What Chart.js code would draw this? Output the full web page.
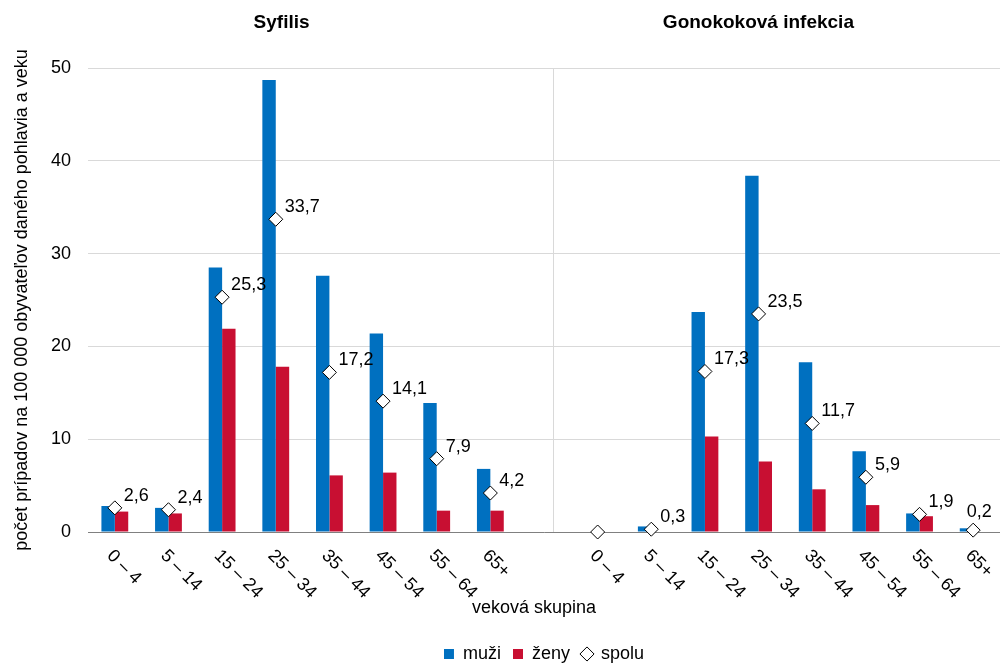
<!DOCTYPE html>
<html>
<head>
<meta charset="utf-8">
<script src="https://cdn.jsdelivr.net/npm/chart.js@4.4.1/dist/chart.umd.min.js"></script>
<style>
  html, body { margin: 0; padding: 0; background: #fff; overflow: hidden; }
  canvas { display: block; }
</style>
</head>
<body>
<canvas id="chart" width="1000" height="663"></canvas>
<script>
// age groups, same for both diseases
const ageGroups = ['0 – 4', '5 – 14', '15 – 24', '25 – 34', '35 – 44', '45 – 54', '55 – 64', '65+'];
const panelTitles = ['Syfilis', 'Gonokoková infekcia'];

// rates per 100 000
const syfMuzi  = [2.8, 2.6, 28.5, 48.7, 27.6, 21.4, 13.9, 6.8];
const syfZeny  = [2.2, 2.0, 21.9, 17.8, 6.1, 6.4, 2.3, 2.3];
const syfSpolu = [2.6, 2.4, 25.3, 33.7, 17.2, 14.1, 7.9, 4.2];

const gonMuzi  = [0, 0.6, 23.7, 38.4, 18.3, 8.7, 2.0, 0.4];
const gonZeny  = [0, 0, 10.3, 7.6, 4.6, 2.9, 1.7, 0];
const gonSpolu = [0, 0.3, 17.3, 23.5, 11.7, 5.9, 1.9, 0.2];

const yTicks = [0, 10, 20, 30, 40, 50];

// one empty slot between the two panels
const labels = [...ageGroups, '', ...ageGroups];
const join = (a, b) => [...a, null, ...b];

const FONT = 'Liberation Sans, Arial, sans-serif';
const BLUE = '#0070C0';
const RED = '#C80F32';

const fmt = v => v.toFixed(1).replace('.', ',');

const extras = {
    id: 'extras',
    afterDraw(chart) {
        const ctx = chart.ctx;
        const x = chart.scales.x;
        const area = chart.chartArea;
        ctx.save();

        // divider between the panels
        const divX = x.getPixelForValue(8) + 9;
        ctx.strokeStyle = '#d9d9d9';
        ctx.lineWidth = 1;
        ctx.beginPath();
        ctx.moveTo(Math.round(divX) + 0.5, area.top);
        ctx.lineTo(Math.round(divX) + 0.5, area.bottom);
        ctx.stroke();

        // panel titles
        ctx.fillStyle = '#000';
        ctx.font = 'bold 19px ' + FONT;
        ctx.textAlign = 'center';
        ctx.textBaseline = 'middle';
        const c1 = (x.getPixelForValue(0) + x.getPixelForValue(7)) / 2 - 21;
        const c2 = (x.getPixelForValue(9) + x.getPixelForValue(16)) / 2 - 27;
        ctx.fillText(panelTitles[0], c1, 23);
        ctx.fillText(panelTitles[1], c2, 23);

        // rotated category labels
        ctx.font = '18px ' + FONT;
        ctx.textAlign = 'left';
        labels.forEach((lab, i) => {
            if (!lab) return;
            const px = x.getPixelForValue(i);
            ctx.save();
            ctx.translate(px - 5, area.bottom + 21);
            ctx.rotate(Math.PI / 4);
            ctx.fillText(lab, 0, 0);
            ctx.restore();
        });

        // x axis title
        ctx.textAlign = 'center';
        ctx.fillText('veková skupina', (area.left + area.right) / 2 - 10, 608);
        ctx.restore();
    },
    afterDatasetsDraw(chart) {
        const ctx = chart.ctx;
        const meta = chart.getDatasetMeta(2);
        const vals = chart.data.datasets[2].data;
        ctx.save();
        ctx.font = '18px ' + FONT;
        ctx.fillStyle = '#000';
        ctx.textBaseline = 'middle';
        meta.data.forEach((pt, i) => {
            const v = vals[i];
            if (v === null || v === 0) return;
            const txt = fmt(v);
            if (pt.x + 9 + ctx.measureText(txt).width > chart.width) {
                // no room on the right: put it above
                ctx.textAlign = 'center';
                ctx.fillText(txt, pt.x + 6, pt.y - 18);
            } else {
                ctx.textAlign = 'left';
                ctx.fillText(txt, pt.x + 9, pt.y - 12);
            }
        });
        ctx.restore();
    }
};

new Chart(document.getElementById('chart'), {
    data: {
        labels: labels,
        datasets: [
            {
                type: 'bar',
                label: 'muži',
                data: join(syfMuzi, gonMuzi),
                backgroundColor: BLUE,
                categoryPercentage: 0.5,
                barPercentage: 1.0,
                order: 1
            },
            {
                type: 'bar',
                label: 'ženy',
                data: join(syfZeny, gonZeny),
                backgroundColor: RED,
                categoryPercentage: 0.5,
                barPercentage: 1.0,
                order: 1
            },
            {
                type: 'line',
                label: 'spolu',
                data: join(syfSpolu, gonSpolu),
                showLine: false,
                pointStyle: 'rectRot',
                pointRadius: 7,
                pointHoverRadius: 7,
                pointBackgroundColor: '#fff',
                pointBorderColor: '#000',
                pointBorderWidth: 1,
                clip: false,
                order: 0
            }
        ]
    },
    options: {
        responsive: false,
        animation: false,
        layout: {
            autoPadding: false,
            padding: { top: 68, right: 0, left: 0, bottom: -10 }
        },
        plugins: {
            tooltip: { enabled: false },
            legend: {
                position: 'bottom',
                fullSize: false,
                labels: {
                    font: { family: FONT, size: 18 },
                    color: '#000',
                    usePointStyle: true,
                    boxWidth: 10,
                    boxHeight: 10,
                    padding: 12,
                    sort: (a, b) => a.datasetIndex - b.datasetIndex,
                    generateLabels(chart) {
                        const items = Chart.defaults.plugins.legend.labels.generateLabels(chart);
                        items.forEach(it => {
                            if (it.datasetIndex === 2) {
                                it.pointStyle = 'rectRot';
                                it.fillStyle = '#fff';
                                it.strokeStyle = '#000';
                                it.lineWidth = 1;
                            } else {
                                it.pointStyle = 'rect';
                                it.lineWidth = 0;
                            }
                        });
                        return items;
                    }
                }
            }
        },
        scales: {
            x: {
                offset: true,
                grid: { display: false, drawTicks: false },
                border: { color: '#808080', width: 1 },
                ticks: { display: false },
                afterFit(scale) { scale.height = 101; }
            },
            y: {
                min: 0,
                max: 50,
                afterBuildTicks(scale) { scale.ticks = yTicks.map(v => ({ value: v })); },
                grid: { color: '#d9d9d9', drawTicks: false },
                border: { display: false },
                ticks: {
                    font: { family: FONT, size: 18 },
                    color: '#000',
                    padding: 17
                },
                title: {
                    display: true,
                    text: 'počet prípadov na 100 000 obyvateľov daného pohlavia a veku',
                    font: { family: FONT, size: 18 },
                    color: '#000',
                    padding: { top: 11, bottom: 0 }
                },
                afterFit(scale) { scale.width = 88; }
            }
        }
    },
    plugins: [extras]
});
</script>
</body>
</html>
